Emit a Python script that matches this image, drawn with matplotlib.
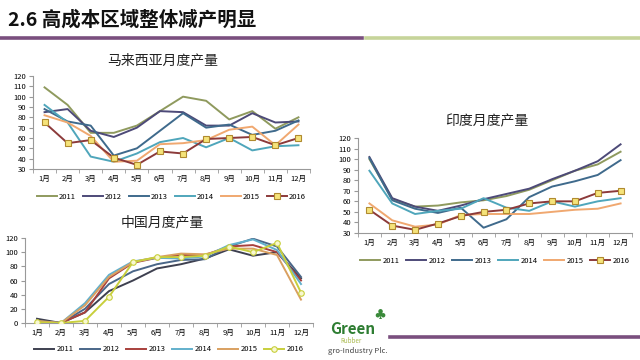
import numpy as np
import matplotlib.pyplot as plt

plt.rcParams['font.family'] = ['Noto Sans CJK SC', 'DejaVu Sans']

months = ['1月', '2月', '3月', '4月', '5月', '6月', '7月', '8月', '9月', '10月', '11月', '12月']
years = ['2011', '2012', '2013', '2014', '2015', '2016']

# 马来西亚
my_2011 = [109, 92, 65, 65, 72, 86, 100, 96, 78, 86, 69, 80]
my_2012 = [85, 88, 67, 61, 70, 86, 85, 72, 72, 84, 75, 76]
my_2013 = [88, 76, 72, 43, 50, 67, 84, 70, 73, 63, 67, 77]
my_2014 = [92, 75, 42, 37, 45, 56, 60, 51, 60, 48, 52, 53]
my_2015 = [82, 75, 62, 37, 38, 54, 55, 58, 68, 71, 53, 73]
my_2016 = [75, 55, 58, 41, 34, 47, 45, 59, 60, 61, 53, 60]

# 中国
cn_2011 = [6, 0, 15, 45, 60, 77, 83, 91, 104, 95, 100, 63]
cn_2012 = [3, 0, 20, 55, 73, 83, 89, 90, 108, 119, 108, 65]
cn_2013 = [2, 0, 15, 63, 85, 92, 96, 96, 108, 110, 100, 60]
cn_2014 = [2, 0, 28, 68, 87, 92, 91, 94, 110, 118, 103, 55]
cn_2015 = [3, 0, 25, 65, 86, 93, 98, 97, 105, 105, 96, 33]
cn_2016 = [1, 0, 3, 37, 86, 93, 93, 95, 108, 100, 113, 43]

# 印度
in_2011 = [100, 62, 55, 56, 59, 61, 65, 71, 80, 89, 95, 107]
in_2012 = [102, 63, 55, 51, 56, 62, 67, 72, 81, 89, 98, 114]
in_2013 = [101, 61, 53, 49, 54, 35, 43, 64, 74, 79, 85, 99]
in_2014 = [89, 58, 48, 51, 53, 63, 54, 51, 60, 55, 60, 63]
in_2015 = [58, 42, 36, 38, 47, 48, 48, 48, 50, 52, 53, 58]
in_2016 = [52, 37, 33, 39, 46, 50, 52, 58, 60, 60, 68, 70]

colors_a = ['#8f9a5e', '#4d4a78', '#3f6a8c', '#4fa6bb', '#f0a870', '#8c3a3a']
colors_cn = ['#3e4050', '#4a6688', '#a8403c', '#62b0cc', '#d9a060', '#c8cf3c']

fig = plt.figure(figsize=(6.4, 3.6), dpi=100)

# header
fig.text(8 / 640, 1 - 20 / 360, '2.6 高成本区域整体减产明显', fontsize=14,
         fontweight='bold', color='#111111', va='center', ha='left')
fig.add_artist(plt.Line2D([0, 362 / 640], [1 - 38 / 360] * 2, color='#7a4f7e', lw=2.6))
fig.add_artist(plt.Line2D([366 / 640, 1], [1 - 38 / 360] * 2, color='#c6d49a', lw=2.6))


def draw(rect, title, series, colors, ylim, ystep, marker, mfc, mec, title_xy):
    ax = fig.add_axes(rect)
    x = np.arange(12)
    for i, (vals, c) in enumerate(zip(series, colors)):
        if i == 5:
            ax.plot(x, vals, color=c, lw=1.4, marker=marker, ms=4,
                    mfc=mfc, mec=mec, mew=0.8, label=years[i], zorder=5)
        else:
            ax.plot(x, vals, color=c, lw=1.4, label=years[i])
    ax.set_xlim(-0.5, 11.5)
    ax.set_ylim(*ylim)
    ax.set_yticks(np.arange(ylim[0], ylim[1] + 1, ystep))
    ax.set_xticks(x)
    ax.set_xticklabels(months)
    ax.set_xticks(np.arange(-0.5, 12, 1), minor=True)
    ax.tick_params(axis='x', which='major', length=0, labelsize=5.5, pad=4)
    ax.tick_params(axis='x', which='minor', length=3, color='#999999')
    ax.tick_params(axis='y', labelsize=5.5, length=3, color='#999999', pad=2)
    for s in ['top', 'right']:
        ax.spines[s].set_visible(False)
    for s in ['left', 'bottom']:
        ax.spines[s].set_color('#999999')
        ax.spines[s].set_linewidth(0.8)
    fig.text(title_xy[0] / 640, 1 - title_xy[1] / 360, title, fontsize=10,
             color='#222222', ha='center', va='center')
    ax.legend(loc='upper center', bbox_to_anchor=(0.5, -0.18), ncol=6, frameon=False,
              fontsize=5.5, handlelength=2.6, columnspacing=0.9, handletextpad=0.3)
    return ax


draw([33 / 640, 1 - 169 / 360, 277 / 640, 93 / 360], '马来西亚月度产量',
     [my_2011, my_2012, my_2013, my_2014, my_2015, my_2016], colors_a,
     (30, 120), 10, 's', '#f5e37a', '#b08a30', (163, 60))
draw([25 / 640, 1 - 323 / 360, 288 / 640, 85 / 360], '中国月度产量',
     [cn_2011, cn_2012, cn_2013, cn_2014, cn_2015, cn_2016], colors_cn,
     (0, 120), 20, 'o', '#f8f8d0', '#c8cf3c', (162, 222))
draw([358 / 640, 1 - 233 / 360, 274 / 640, 95 / 360], '印度月度产量',
     [in_2011, in_2012, in_2013, in_2014, in_2015, in_2016], colors_a,
     (30, 120), 10, 's', '#f5e37a', '#b08a30', (487, 121))

# logo
fig.text(330 / 640, 1 - 329 / 360, 'Green', fontsize=11, fontweight='bold',
         color='#2e7d32', va='center', ha='left')
fig.text(340 / 640, 1 - 341 / 360, 'Rubber', fontsize=4.5, color='#a8b84a',
         va='center', ha='left')
fig.text(328 / 640, 1 - 351 / 360, 'gro-Industry Plc.', fontsize=5.5, color='#444444',
         va='center', ha='left')
fig.text(380 / 640, 1 - 315 / 360, '\u2663', fontsize=8, color='#3a8a3a', va='center', ha='center')
fig.add_artist(plt.Line2D([390 / 640, 1], [1 - 337 / 360] * 2, color='#7a4f7e', lw=2.6))

fig.savefig('out.png', dpi=100)
